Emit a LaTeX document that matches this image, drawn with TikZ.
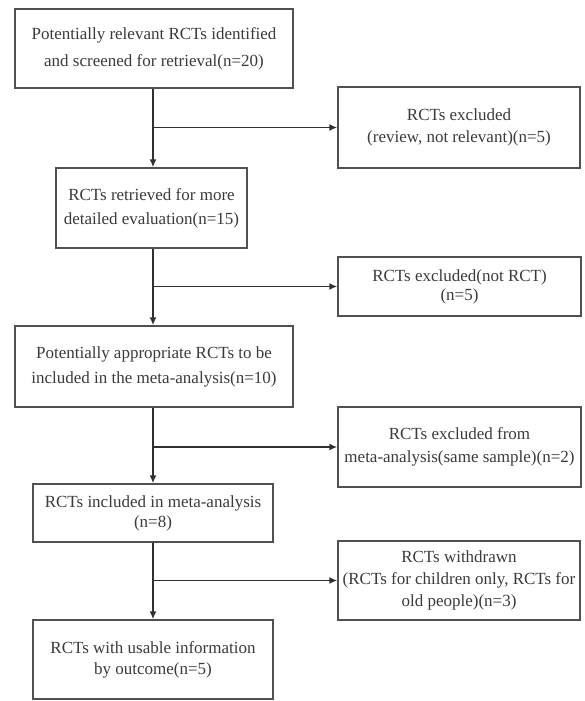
\documentclass[tikz,border=0pt]{standalone}
\usepackage{fontspec}
\setmainfont{Liberation Serif}
\usetikzlibrary{arrows.meta}
\definecolor{boxline}{HTML}{505050}
\definecolor{conline}{HTML}{303030}
\definecolor{txt}{HTML}{3A3A3A}
\tikzset{
  box/.style={draw=boxline, line width=1.4pt, rectangle, align=center, inner sep=0pt,
    text=txt, font=\fontsize{17}{22}\selectfont},
  conn/.style={draw=conline, line width=1.8pt},
  arr/.style={conn, -{Latex[length=8pt,width=7pt]}}
}
\begin{document}
\begin{tikzpicture}[x=1pt, y=-1pt]
\useasboundingbox (0,0) rectangle (584,701);
\coordinate (sp) at (153,0);
% main column
\node[box, minimum width=278pt, minimum height=79pt, font=\fontsize{17}{27}\selectfont] (b1) at (154,48.5)
  {Potentially relevant RCTs identified\\and screened for retrieval(n=20)};
\node[box, minimum width=191pt, minimum height=80pt, font=\fontsize{17}{24}\selectfont] (b2) at (151.5,208)
  {RCTs retrieved for more\\detailed evaluation(n=15)};
\node[box, minimum width=278pt, minimum height=81pt, font=\fontsize{17}{25}\selectfont] (b3) at (154,366.5)
  {Potentially appropriate RCTs to be\\included in the meta-analysis(n=10)};
\node[box, minimum width=240pt, minimum height=58pt, font=\fontsize{17}{20}\selectfont] (b4) at (153,513)
  {RCTs included in meta-analysis\\(n=8)};
\node[box, minimum width=240pt, minimum height=79pt, font=\fontsize{17}{21}\selectfont] (b5) at (153,659.5)
  {RCTs with usable information\\by outcome(n=5)};
% right column
\node[box, minimum width=242pt, minimum height=81pt] (r1) at (459,127.5)
  {RCTs excluded\\(review, not relevant)(n=5)};
\node[box, minimum width=243pt, minimum height=59pt, font=\fontsize{17}{19}\selectfont] (r2) at (459.5,286.5)
  {RCTs excluded(not RCT)\\(n=5)};
\node[box, minimum width=243pt, minimum height=80pt, font=\fontsize{17}{23}\selectfont] (r3) at (459.5,447)
  {RCTs excluded from\\meta-analysis(same sample)(n=2)};
\node[box, minimum width=242pt, minimum height=79pt] (r4) at (459,580.5)
  {RCTs withdrawn\\(RCTs for children only, RCTs for\\old people)(n=3)};
% vertical connectors
\draw[arr] (b1.south -| sp) -- (b2.north -| sp);
\draw[arr] (b2.south -| sp) -- (b3.north -| sp);
\draw[arr] (b3.south -| sp) -- (b4.north -| sp);
\draw[arr] (b4.south -| sp) -- (b5.north -| sp);
% side branches
\draw[arr] (sp |- r1.west) -- (r1.west);
\draw[arr] (sp |- r2.west) -- (r2.west);
\draw[arr] (sp |- r3.west) -- (r3.west);
\draw[arr] (sp |- r4.west) -- (r4.west);
\end{tikzpicture}
\end{document}
